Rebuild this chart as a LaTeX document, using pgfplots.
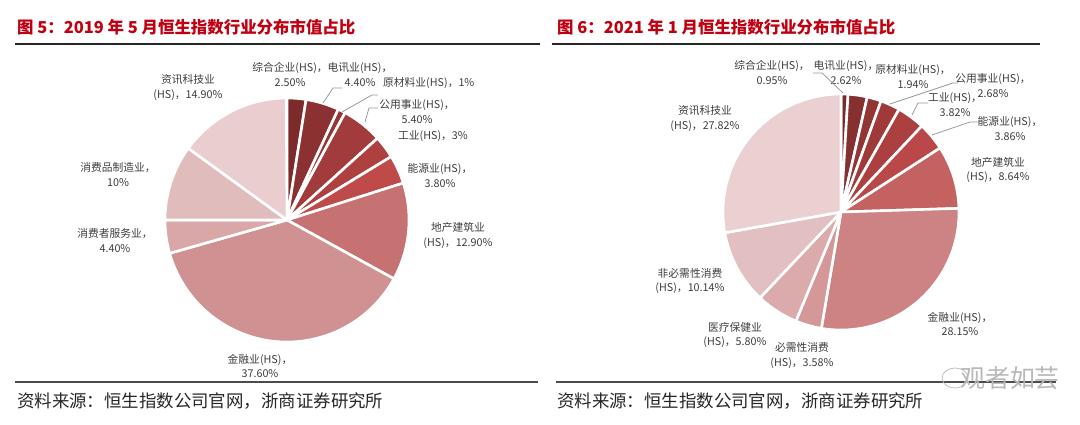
\documentclass[border=0pt]{standalone}
\usepackage{pgfplots}
\pgfplotsset{compat=1.18}
\usepackage{fontspec}
\setmainfont{Noto Sans CJK SC}

% slice colours, clockwise from 12 o'clock
\definecolor{L1}{HTML}{7D2A2A}
\definecolor{L2}{HTML}{8B3131}
\definecolor{L3}{HTML}{963535}
\definecolor{L4}{HTML}{A23B3B}
\definecolor{L5}{HTML}{AF4040}
\definecolor{L6}{HTML}{BE4A4A}
\definecolor{L7}{HTML}{C77272}
\definecolor{L8}{HTML}{D09192}
\definecolor{L9}{HTML}{D9A7A8}
\definecolor{L10}{HTML}{E1BCBD}
\definecolor{L11}{HTML}{E9CDCF}

\definecolor{R1}{HTML}{7A2828}
\definecolor{R2}{HTML}{873030}
\definecolor{R3}{HTML}{943535}
\definecolor{R4}{HTML}{A03A3A}
\definecolor{R5}{HTML}{AC4040}
\definecolor{R6}{HTML}{BB4848}
\definecolor{R7}{HTML}{C46262}
\definecolor{R8}{HTML}{CD8283}
\definecolor{R9}{HTML}{D49899}
\definecolor{R10}{HTML}{DBABAC}
\definecolor{R11}{HTML}{E2BFC0}
\definecolor{R12}{HTML}{EAD0D1}

\definecolor{titlered}{HTML}{C00010}
\definecolor{lbl}{HTML}{3C3C3C}
\definecolor{leader}{HTML}{9A9A9A}

% values (%), clockwise from the top
\def\leftvalues{2.5,4.4,1,5.4,3,3.8,12.9,37.6,4.4,10,14.9}
\def\rightvalues{0.95,2.62,1.94,2.68,3.82,3.86,8.64,28.15,3.58,5.80,10.14,27.82}

\newcommand\pie[5]{% cx, cy, r, colour prefix, values
  \gdef\cum{0}%
  \foreach \v [count=\i] in #5 {%
    \pgfmathsetmacro\a{90-3.6*\cum}%
    \pgfmathsetmacro\b{90-3.6*(\cum+\v)}%
    \edef\temp{\noexpand\fill[#4\i, draw=white, line width=2.6bp, line join=round]
      (axis cs:#1,#2) -- ++(\a:#3bp) arc[start angle=\a, end angle=\b, radius=#3bp] -- cycle;}%
    \temp
    \pgfmathsetmacro\n{\cum+\v}\xdef\cum{\n}%
  }%
}

\tikzset{lab/.style={font=\fontsize{10.8}{15}\selectfont, text=lbl, align=center, inner sep=0pt},
         ld/.style={draw=leader, line width=0.8bp}}

\begin{document}
\begin{tikzpicture}
\begin{axis}[
  width=1080bp, height=424bp, scale only axis,
  xmin=0, xmax=1080, ymin=0, ymax=424, y dir=reverse,
  hide axis, clip=false, enlargelimits=false]
\path (axis cs:0,0) rectangle (axis cs:1080,424);

% ---------- titles and rules ----------
\node[anchor=west, inner sep=0pt, text=titlered, font=\fontsize{16.5}{18}\selectfont\bfseries]
  at (axis cs:17,27) {图 5：2019 年 5 月恒生指数行业分布市值占比};
\node[anchor=west, inner sep=0pt, text=titlered, font=\fontsize{16.5}{18}\selectfont\bfseries]
  at (axis cs:557,27) {图 6：2021 年 1 月恒生指数行业分布市值占比};
\draw[color=black!85, line width=1.3bp] (axis cs:15,44) -- (axis cs:540,44);
\draw[color=black!85, line width=1.3bp] (axis cs:552,44) -- (axis cs:1040,44);
\draw[color=black!70, line width=1.3bp] (axis cs:15,382) -- (axis cs:538,382);
\draw[color=black!70, line width=1.3bp] (axis cs:556,382) -- (axis cs:1056,382);
\node[anchor=west, inner sep=0pt, text=black!85, font=\fontsize{17.5}{19}\selectfont]
  at (axis cs:17,401) {资料来源：恒生指数公司官网，浙商证券研究所};
\node[anchor=west, inner sep=0pt, text=black!85, font=\fontsize{17.5}{19}\selectfont]
  at (axis cs:557,401) {资料来源：恒生指数公司官网，浙商证券研究所};

% ---------- pies ----------
\pie{287}{220}{122}{L}{\leftvalues}
\pie{841}{212}{118}{R}{\rightvalues}

% ---------- left labels ----------
\node[lab] at (axis cs:290,74.5) {综合企业(HS)，\\2.50\%};
\node[lab] at (axis cs:360,74.5) {电讯业(HS)，\\4.40\%};
\node[lab, anchor=west] at (axis cs:383,83) {原材料业(HS)，1\%};
\node[lab] at (axis cs:417,111.5) {公用事业(HS)，\\5.40\%};
\node[lab] at (axis cs:433,136) {工业(HS)，3\%};
\node[lab] at (axis cs:440,175.5) {能源业(HS)，\\3.80\%};
\node[lab] at (axis cs:458,235.5) {地产建筑业\\(HS)，12.90\%};
\node[lab] at (axis cs:260,366) {金融业(HS)，\\37.60\%};
\node[lab] at (axis cs:115,240.5) {消费者服务业，\\4.40\%};
\node[lab] at (axis cs:118,174.5) {消费品制造业，\\10\%};
\node[lab] at (axis cs:188,88) {资讯科技业\\(HS)，14.90\%};
\draw[ld] (axis cs:323,103) -- (axis cs:333,88) -- (axis cs:342,88);
\draw[ld] (axis cs:342,112) -- (axis cs:372,95) -- (axis cs:378,95);
\draw[ld] (axis cs:365,122) -- (axis cs:369,108) -- (axis cs:378,108);

% ---------- right labels ----------
\node[lab] at (axis cs:772,72.5) {综合企业(HS)，\\0.95\%};
\node[lab] at (axis cs:846,72.5) {电讯业(HS)，\\2.62\%};
\node[lab] at (axis cs:913,76.5) {原材料业(HS)，\\1.94\%};
\node[lab] at (axis cs:993,86) {公用事业(HS)，\\2.68\%};
\node[lab] at (axis cs:955,105) {工业(HS)，\\3.82\%};
\node[lab] at (axis cs:1010,129) {能源业(HS)，\\3.86\%};
\node[lab] at (axis cs:998,170) {地产建筑业\\(HS)，8.64\%};
\node[lab] at (axis cs:960,324) {金融业(HS)，\\28.15\%};
\node[lab] at (axis cs:802,355.5) {必需性消费\\(HS)，3.58\%};
\node[lab] at (axis cs:735,335) {医疗保健业\\(HS)，5.80\%};
\node[lab] at (axis cs:690,281) {非必需性消费\\(HS)，10.14\%};
\node[lab] at (axis cs:705,119) {资讯科技业\\(HS)，27.82\%};
\draw[ld] (axis cs:843,93) -- (axis cs:822,73) -- (axis cs:813,73);
\draw[ld] (axis cs:890,104) -- (axis cs:953,83) -- (axis cs:958,83);
\draw[ld] (axis cs:912,115) -- (axis cs:918,103) -- (axis cs:928,103);
\draw[ld] (axis cs:932,135) -- (axis cs:970,122) -- (axis cs:978,122);

% ---------- watermark ----------
\draw[black!25, line width=0.8bp] (axis cs:955,378) ellipse[x radius=13bp, y radius=10bp];
\node[inner sep=0pt, text=black!28, font=\fontsize{25}{26}\selectfont]
  at (axis cs:1010,378) {观者如芸};
\end{axis}
\end{tikzpicture}
\end{document}
